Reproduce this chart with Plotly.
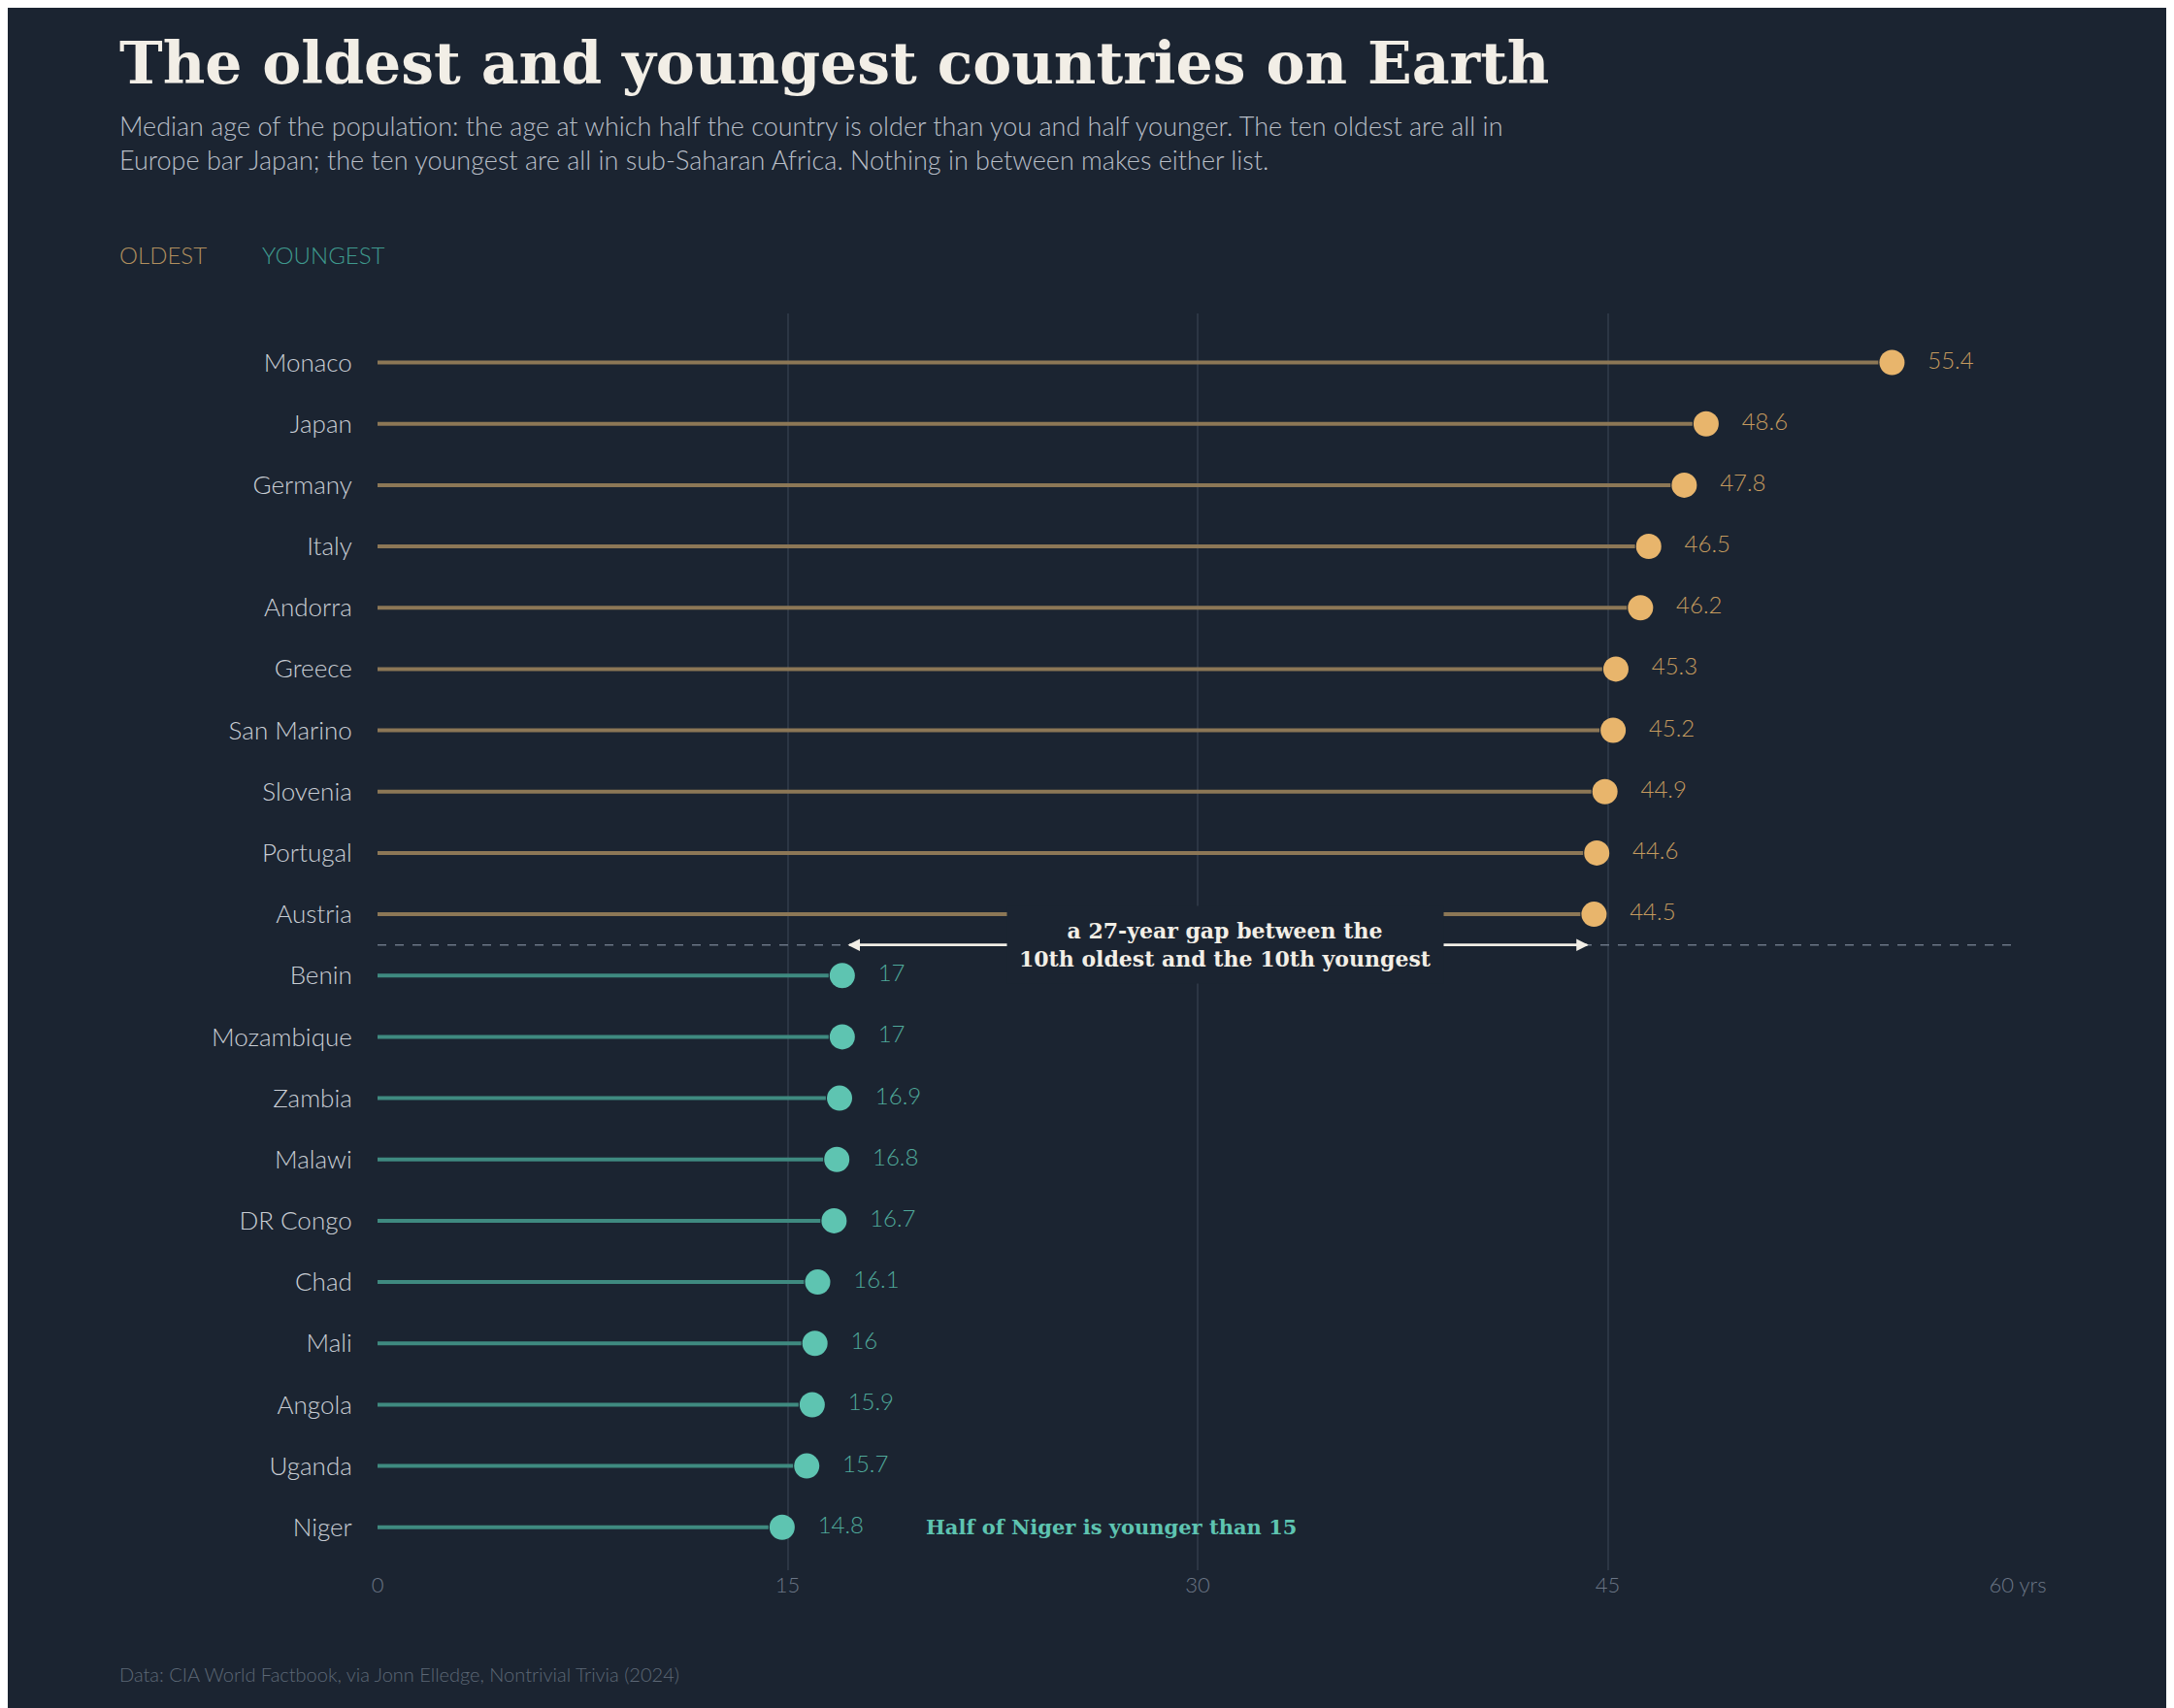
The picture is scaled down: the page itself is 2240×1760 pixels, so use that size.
import plotly.graph_objects as go

countries = ["Monaco", "Japan", "Germany", "Italy", "Andorra", "Greece", "San Marino", "Slovenia",
             "Portugal", "Austria", "Benin", "Mozambique", "Zambia", "Malawi", "DR Congo", "Chad",
             "Mali", "Angola", "Uganda", "Niger"]
ages = [55.4, 48.6, 47.8, 46.5, 46.2, 45.3, 45.2, 44.9, 44.6, 44.5,
        17, 17, 16.9, 16.8, 16.7, 16.1, 16, 15.9, 15.7, 14.8]
groups = ["old"] * 10 + ["young"] * 10
tick_vals = [0, 15, 30, 45, 60]
tick_text = ["0", "15", "30", "45", "60 yrs"]

BG = "#1b2431"
LINE = {"old": "#8c7756", "young": "#3f8a80"}
DOT = {"old": "#e8b56c", "young": "#5ec4b1"}
LAB = {"old": "#c49a5e", "young": "#4fa99a"}
SANS = "Lato"
SERIF = "DejaVu Serif"
LEFT = -0.1586  # paper x of the left text edge

fig = go.Figure()
for g in ["old", "young"]:
    idx = [i for i, gg in enumerate(groups) if gg == g]
    xs, ys = [], []
    for i in idx:
        xs += [0, ages[i] - 0.5, None]
        ys += [i, i, None]
    fig.add_trace(go.Scatter(x=xs, y=ys, mode="lines", line=dict(color=LINE[g], width=4),
                             hoverinfo="skip", showlegend=False))
    fig.add_trace(go.Scatter(x=[ages[i] for i in idx], y=idx, mode="markers+text",
                             marker=dict(color=DOT[g], size=26),
                             text=[f"   {ages[i]:g}" for i in idx], textposition="middle right",
                             textfont=dict(family=SANS, size=24, color=LAB[g], weight=300),
                             showlegend=False))

# separator
fig.add_shape(type="line", x0=0, x1=60, y0=9.5, y1=9.5,
              line=dict(color="#6b7686", width=1.5, dash="dash"))

# double arrow
for head, tail in [(17.2, 44.3), (44.3, 17.2)]:
    fig.add_annotation(x=head, y=9.5, ax=tail, ay=9.5, xref="x", yref="y", axref="x", ayref="y",
                       text="", showarrow=True, arrowhead=2, arrowsize=1, arrowwidth=2.5,
                       arrowcolor="#f2eee6")
fig.add_annotation(x=31, y=9.5, xref="x", yref="y", showarrow=False,
                   text="<b>a 27-year gap between the<br>10th oldest and the 10th youngest</b>",
                   font=dict(family=SERIF, size=22, color="#f2eee6"), bgcolor=BG,
                   borderpad=12, align="center")
fig.add_annotation(x=60.5, y=3.95, xref="x", yref="y", showarrow=False, xanchor="right",
                   text="<b>Long lives, few births,<br>and a lot of yachts</b>", align="right",
                   font=dict(family=SERIF, size=21, color="#e8b56c"))
fig.add_annotation(x=20, y=19, xref="x", yref="y", showarrow=False, xanchor="left",
                   text="<b>Half of Niger is younger than 15</b>",
                   font=dict(family=SERIF, size=21, color="#5ec4b1"))

# title block
fig.add_annotation(x=LEFT, y=1.199, xref="paper", yref="paper", showarrow=False, xanchor="left",
                   yanchor="middle",
                   text="<b>The oldest and youngest countries on Earth</b>",
                   font=dict(family=SERIF, size=60, color="#f2eee6"))
fig.add_annotation(x=LEFT, y=1.136, xref="paper", yref="paper", showarrow=False, xanchor="left",
                   yanchor="middle", align="left",
                   text="Median age of the population: the age at which half the country is older than you and half younger. The ten oldest are all in<br>Europe bar Japan; the ten youngest are all in sub-Saharan Africa. Nothing in between makes either list.",
                   font=dict(family=SANS, size=27, color="#b8bec7", weight=300))
fig.add_annotation(x=LEFT, y=1.047, xref="paper", yref="paper", showarrow=False, xanchor="left",
                   yanchor="middle",
                   text="<span style='color:#b08f5e'>OLDEST</span>         <span style='color:#3f9a8e'>YOUNGEST</span>",
                   font=dict(family=SANS, size=24, weight=300))
fig.add_annotation(x=LEFT, y=-0.083, xref="paper", yref="paper", showarrow=False, xanchor="left",
                   yanchor="middle",
                   text="Data: CIA World Factbook, via Jonn Elledge, Nontrivial Trivia (2024)",
                   font=dict(family=SANS, size=20, color="#5d6876", weight=300))

fig.update_layout(
    width=2240, height=1760, paper_bgcolor=BG, plot_bgcolor=BG,
    margin=dict(l=381, r=169, t=315, b=150),
    xaxis=dict(range=[0, 60], tickvals=tick_vals, ticktext=tick_text, showgrid=True,
               gridcolor="#2c3644", gridwidth=1.5, zeroline=False, showline=False,
               tickfont=dict(family=SANS, size=22, color="#6b7686", weight=300), ticks="",
               automargin=False),
    yaxis=dict(range=[19.7, -0.8], tickvals=list(range(20)), ticktext=countries, showgrid=False,
               zeroline=False, tickfont=dict(family=SANS, size=26, color="#c9ced5", weight=300),
               ticks="outside", ticklen=20, tickcolor=BG, automargin=False),
    font=dict(family=SANS),
)
fig.write_html("out.html")
